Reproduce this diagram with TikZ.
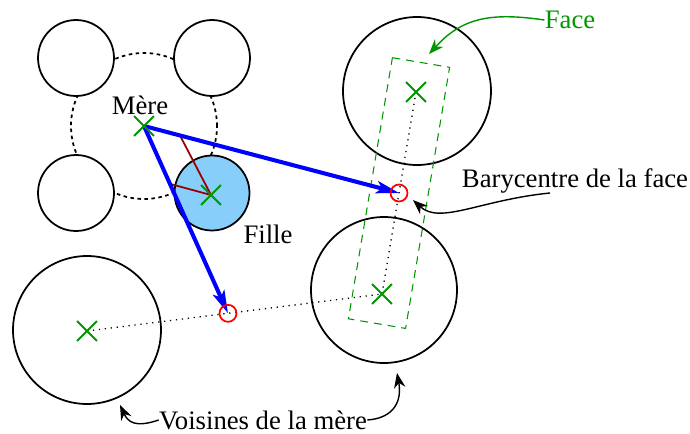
\documentclass[tikz,border=0pt]{standalone}
\usepackage{fontspec}
\setmainfont{Liberation Serif}
\usetikzlibrary{arrows.meta,shapes.misc,calc}
\definecolor{gr}{RGB}{0,150,0}
\definecolor{fillb}{RGB}{135,206,250}
\definecolor{dred}{RGB}{150,0,0}
\begin{document}
\begin{tikzpicture}[x=0.02cm,y=-0.02cm,
 ball/.style={circle,draw=black,line width=1pt,fill=white,inner sep=0pt},
 smallball/.style={ball,minimum size=1.52cm},
 bigball/.style={ball,minimum size=2.96cm},
 xmark/.style={cross out,draw=gr,line width=1.1pt,minimum size=0.36cm,inner sep=0pt},
 redc/.style={circle,draw=red,line width=1pt,minimum size=0.34cm,inner sep=0pt},
 bluearrow/.style={draw=blue,line width=2.3pt,-{Stealth[length=13pt,width=7pt,inset=3pt]}},
 note/.style={draw=black,line width=0.8pt,-{Stealth[length=8.5pt,width=6.5pt]}},
 greennote/.style={draw=gr,line width=0.8pt,-{Stealth[length=8.5pt,width=6.5pt]}},
 dotline/.style={line width=0.75pt,dash pattern=on 0.7pt off 2.7pt,black},
 lbl/.style={font=\fontsize{15.2}{18}\selectfont,inner sep=0pt},
]
\useasboundingbox (0,0) rectangle (690,433);

% centres
\coordinate (mere) at (144,126);
\coordinate (vA) at (87,331);
\coordinate (vB) at (416,92);
\coordinate (vC) at (382,294);

% ring through the neighbours of the parent
\node[circle,draw=black,line width=1pt,dash pattern=on 2pt off 2pt,minimum size=2.92cm,inner sep=0pt] (ring) at (mere) {};

% small circles
\node[smallball] (tl) at (76,58) {};
\node[smallball] (tr) at (212,58) {};
\node[smallball] (bl) at (76,193) {};
\node[smallball,fill=fillb,minimum size=1.5cm] (fille) at (212,193) {};

% big circles
\node[bigball] (cA) at (87,330) {};
\node[bigball] (cB) at (417,91) {};
\node[bigball,minimum size=2.92cm] (cC) at (384,290) {};

% face rectangle
\draw[gr,line width=0.6pt,dash pattern=on 4.5pt off 3.4pt]
  (392.4,57.7) -- (449.6,67.3) -- (405.6,328.4) -- (348.4,318.8) -- cycle;

% dotted links
\draw[dotline] (vA) -- (vC);
\draw[dotline] (vB) -- (vC);

% barycentres
\coordinate (baryc) at ($(vB)!0.5!(vC)$);
\coordinate (midc) at ($(vA)!0.478!(vC)$);

% red lines
\coordinate (fc) at (211,195);
\draw[dred,line width=1pt] (fc) -- ($(mere)!0.141!(baryc)$);
\draw[dred,line width=1pt] (fc) -- ($(mere)!0.309!(midc)$);

% blue arrows
\draw[bluearrow] (mere) -- (baryc);
\draw[bluearrow] (mere) -- (midc);

% red circles
\node[redc] (bary) at (baryc) {};
\node[redc] (mid) at (midc) {};

% crosses
\node[xmark] (xm) at (mere) {};
\node[xmark] (xf) at (fc) {};
\node[xmark] (xa) at (vA) {};
\node[xmark] (xb) at (vB) {};
\node[xmark] (xc) at (vC) {};

% labels
\node[lbl] (lmere) at (140,105) {Mère};
\node[lbl] (lfille) at (268,234) {Fille};
\node[lbl,text=gr] (lface) at (570,20) {Face};
\node[lbl] (lbary) at (575,181) {Barycentre de la face};
\node[lbl] (lvois) at (263,420) {Voisines de la mère};

% annotation arrows
\coordinate (tface) at (429,54);
\draw[greennote] (lface.west) .. controls (490,12) and (462,18) .. (tface);
\coordinate (sbary) at (550,193);
\coordinate (tbary) at (413,200);
\draw[note] (sbary) .. controls (480,200) and (440,225) .. (tbary);
\coordinate (tvl) at (120,405);
\coordinate (tvr) at (397,373);
\draw[note] (lvois.west) .. controls (135,428) and (128,422) .. (tvl);
\draw[note] (lvois.east) .. controls (395,418) and (402,400) .. (tvr);
\end{tikzpicture}
\end{document}
